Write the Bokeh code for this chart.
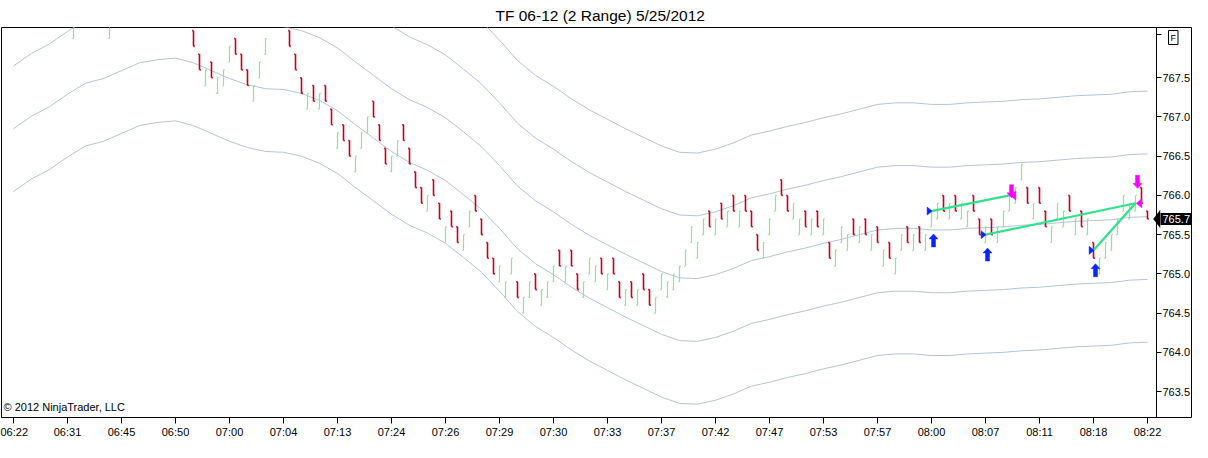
from bokeh.plotting import figure
from bokeh.models import FixedTicker, Label, Range1d, LinearAxis
from bokeh.embed import file_html
from bokeh.resources import INLINE

# ---------------- data ----------------
title_text = "TF 06-12 (2 Range)  5/25/2012"
copyright_text = "\u00a9 2012 NinjaTrader, LLC"

time_labels = ["06:22", "06:31", "06:45", "06:50", "07:00", "07:04", "07:13", "07:24",
               "07:26", "07:29", "07:30", "07:33", "07:37", "07:42", "07:47", "07:53",
               "07:57", "08:00", "08:07", "08:11", "08:18", "08:22"]
bars_per_label = 9

price_ticks = [763.5, 764.0, 764.5, 765.0, 765.5, 766.0, 766.5, 767.0, 767.5, 768.05]
price_tick_labels = ["763.5", "764.0", "764.5", "765.0", "765.5", "766.0", "766.5", "767.0", "767.5", ""]

bar_open = [
    768.4, 768.6, 768.9, 768.7, 768.5, 768.5, 768.7, 768.8, 768.6, 768.4,
    768.0, 768.2, 768.4, 768.5, 768.5, 768.4, 768.0, 768.2, 768.4, 768.6,
    768.7, 768.7, 768.8, 768.9, 768.8, 768.7, 768.6, 768.5, 768.4, 768.2,
    768.1, 767.8, 767.4, 767.7, 767.3, 767.4, 767.7, 768.0, 767.8, 767.6,
    767.2, 767.5, 767.8, 768.2, 768.3, 768.4, 768.1, 767.8, 767.5, 767.1,
    767.4, 767.1, 767.4, 767.1, 766.6, 766.9, 766.7, 766.3, 766.6, 766.8,
    767.2, 766.9, 766.6, 766.3, 766.5, 766.9, 766.6, 766.3, 766.1, 765.8,
    766.2, 765.9, 765.4, 765.8, 765.6, 765.3, 765.6, 766.0, 765.7, 765.4,
    765.2, 764.9, 764.7, 765.0, 764.9, 764.5, 764.7, 765.0, 764.6, 764.7,
    764.9, 765.3, 764.9, 765.3, 765.0, 764.7, 765.0, 764.9, 765.2, 764.8,
    765.2, 764.9, 764.6, 764.9, 764.6, 765.0, 764.8, 764.5, 764.8, 764.7,
    764.8, 764.9, 765.1, 765.4, 765.2, 765.5, 765.8, 765.5, 765.9, 765.6,
    766.0, 765.6, 766.0, 765.8, 765.5, 765.2, 765.5, 765.8, 766.2, 766.0,
    765.7, 765.5, 765.8, 765.5, 765.8, 765.5, 765.4, 765.1, 765.4, 765.3,
    765.7, 765.4, 765.7, 765.3, 765.6, 765.1, 765.4, 765.0, 765.3, 765.6,
    765.3, 765.6, 765.3, 765.6, 765.7, 766.0, 765.7, 766.0, 765.7, 765.6,
    766.0, 765.7, 765.4, 765.7, 765.4, 765.6, 765.8, 765.9, 766.2, 766.1,
    765.7, 766.1, 765.8, 765.4, 765.7, 765.6, 766.0, 765.5, 765.8, 765.5,
    765.4, 765.0, 765.2, 765.3, 765.5, 765.8, 765.7, 765.8, 766.1, 765.8,
]
bar_close = [
    768.6, 768.8, 768.7, 768.5, 768.3, 768.7, 768.9, 768.6, 768.4, 768.2,
    768.2, 768.4, 768.6, 768.7, 768.3, 768.2, 768.2, 768.4, 768.6, 768.8,
    768.5, 768.9, 769.0, 768.7, 768.6, 768.5, 768.4, 768.3, 768.2, 768.4,
    767.9, 767.6, 767.6, 767.5, 767.5, 767.6, 767.9, 767.8, 767.6, 767.4,
    767.4, 767.7, 768.0, 768.4, 768.5, 768.2, 767.9, 767.6, 767.3, 767.3,
    767.2, 767.3, 767.2, 766.9, 766.8, 766.7, 766.5, 766.5, 766.8, 767.0,
    767.0, 766.7, 766.4, 766.5, 766.7, 766.7, 766.4, 766.1, 765.9, 766.0,
    766.0, 765.7, 765.6, 765.6, 765.4, 765.5, 765.8, 765.8, 765.5, 765.2,
    765.0, 765.1, 764.9, 765.2, 764.7, 764.7, 764.9, 764.8, 764.8, 764.9,
    765.1, 765.1, 765.1, 765.1, 764.8, 764.9, 765.2, 765.1, 765.0, 765.0,
    765.0, 764.7, 764.8, 764.7, 764.8, 764.8, 764.6, 764.7, 765.0, 764.9,
    765.0, 765.1, 765.3, 765.6, 765.4, 765.7, 765.6, 765.7, 765.7, 765.8,
    765.8, 765.8, 765.8, 765.6, 765.3, 765.4, 765.7, 766.0, 766.0, 765.8,
    765.9, 765.7, 765.6, 765.7, 765.6, 765.7, 765.2, 765.3, 765.6, 765.5,
    765.5, 765.6, 765.5, 765.5, 765.4, 765.3, 765.2, 765.2, 765.5, 765.4,
    765.5, 765.4, 765.5, 765.8, 765.9, 765.8, 765.9, 765.8, 765.9, 765.8,
    765.8, 765.5, 765.6, 765.5, 765.6, 765.8, 766.0, 766.1, 766.4, 765.9,
    765.9, 765.9, 765.6, 765.6, 765.9, 765.8, 765.8, 765.7, 765.6, 765.7,
    765.2, 765.2, 765.4, 765.5, 765.7, 766.0, 765.9, 766.0, 765.9, 765.7,
]

# middle line of the channel, sampled every 3rd bar
mid_step = 3
mid_line = [
    767.65, 767.81, 767.93, 768.09, 768.23, 768.29, 768.39, 768.49, 768.53, 768.55,
    768.49, 768.39, 768.29, 768.21, 768.16, 768.15, 768.10, 768.01, 767.88, 767.70,
    767.53, 767.36, 767.22, 767.12, 766.99, 766.81, 766.62, 766.38, 766.12, 765.93,
    765.79, 765.63, 765.49, 765.37, 765.25, 765.14, 765.03, 764.95, 764.94, 764.99,
    765.07, 765.17, 765.22, 765.28, 765.33, 765.39, 765.44, 765.50, 765.56, 765.58,
    765.58, 765.56, 765.56, 765.58, 765.59, 765.60, 765.62, 765.63, 765.65, 765.67,
    765.68, 765.69, 765.72, 765.73,
]
band_offsets = [1.6, 0.8, 0.0, -0.8, -1.6]

# trades
entry_bar = [153, 162, 180]
entry_price = [765.8, 765.5, 765.3]
exit_bar = [166, 187, 187]
exit_price = [766.0, 765.9, 765.9]
up_arrow_bar = [153, 162, 180]
up_arrow_price = [765.51, 765.33, 765.13]
down_arrow_bar = [166, 187]
down_arrow_price = [765.97, 766.09]

last_price = 765.7
last_price_text = "765.7"
f_box_text = "F"

# ---------------- layout constants ----------------
W, H = 1192, 442
MB_L, MB_R, MB_T, MB_B = 1, 0, 27, 25
FRAME_W = W - MB_L - MB_R
FRAME_H = H - MB_T - MB_B
PX_X = 1.0 / 6.0                      # bar units per pixel
X0 = -2.0
X1 = X0 + FRAME_W * PX_X
AXIS_X = X0 + 1155 * PX_X             # price axis sits at canvas x = 1156
Y0, Y1 = 763.17, 768.14
PX_Y = (Y1 - Y0) / FRAME_H

FONT = "Liberation Sans"
RED = "#c4001c"
GREEN = "#8fe68f"
BAND = "#b3c3da"
TRADE = "#30e28a"
BLUE = "#0a24ff"
MAGENTA = "#ff00ff"

p = figure(width=W, height=H, output_backend="svg", toolbar_location=None, tools="",
           x_range=Range1d(X0, X1), y_range=Range1d(Y0, Y1),
           y_axis_location=None,
           min_border_left=MB_L, min_border_right=MB_R,
           min_border_top=MB_T, min_border_bottom=MB_B,
           background_fill_color="white", border_fill_color="white",
           outline_line_color="black", outline_line_width=1)
p.xgrid.visible = False
p.ygrid.visible = False

p.title.text = title_text
p.title.align = "left"
p.title.offset = 494
p.title.text_font = FONT
p.title.text_font_size = "15.5px"
p.title.text_font_style = "normal"
p.title.text_color = "black"
p.title.standoff = 8
p.title.vertical_align = "bottom"

# time axis
xa = p.xaxis[0]
xa.ticker = FixedTicker(ticks=[k * bars_per_label for k in range(len(time_labels))])
xa.major_label_overrides = {k * bars_per_label: t for k, t in enumerate(time_labels)}
xa.bounds = (X0, AXIS_X)
xa.major_tick_out = 6
xa.major_tick_in = 0
xa.minor_tick_out = 0
xa.minor_tick_in = 0
xa.axis_line_color = "black"
xa.major_tick_line_color = "black"
xa.major_label_text_font = FONT
xa.major_label_text_font_size = "11px"
xa.major_label_text_color = "black"
xa.major_label_standoff = 2

# price axis, pinned inside the frame so the price flag area can be drawn beside it
ya = LinearAxis(fixed_location=AXIS_X, ticker=FixedTicker(ticks=price_ticks))
ya.major_label_overrides = {t: s for t, s in zip(price_ticks, price_tick_labels)}
ya.major_tick_out = 5
ya.major_tick_in = 0
ya.minor_tick_out = 0
ya.minor_tick_in = 0
ya.axis_line_color = "black"
ya.major_tick_line_color = "black"
ya.major_label_text_font = FONT
ya.major_label_text_font_size = "11px"
ya.major_label_text_color = "black"
ya.major_label_standoff = 1
p.add_layout(ya, "right")

# channel bands
mid_x = [k * mid_step for k in range(len(mid_line))]
for off in band_offsets:
    p.line(mid_x, [m + off for m in mid_line], line_color=BAND, line_width=1.0)

# OHLC range bars
idx = list(range(len(bar_open)))
hi = [max(o, c) for o, c in zip(bar_open, bar_close)]
lo = [min(o, c) for o, c in zip(bar_open, bar_close)]
up = [c >= o for o, c in zip(bar_open, bar_close)]
tick = 1.3 * PX_X
for flag, col, lw in ((True, GREEN, 1.2), (False, RED, 1.6)):
    ii = [i for i in idx if up[i] == flag]
    p.segment(x0=ii, y0=[lo[i] for i in ii], x1=ii, y1=[hi[i] for i in ii],
              line_color=col, line_width=lw)
    p.segment(x0=[i - tick for i in ii], y0=[bar_open[i] for i in ii],
              x1=ii, y1=[bar_open[i] for i in ii], line_color=col, line_width=lw)
    p.segment(x0=ii, y0=[bar_close[i] for i in ii],
              x1=[i + tick for i in ii], y1=[bar_close[i] for i in ii], line_color=col, line_width=lw)

# trade connection lines
p.segment(x0=entry_bar, y0=entry_price, x1=exit_bar, y1=exit_price,
          line_color=TRADE, line_width=2.2)


def shape(bars, prices, pts, dx0=0.0):
    xs, ys = [], []
    for b, pr in zip(bars, prices):
        xs.append([b + (dx0 + dx) * PX_X for dx, dy in pts])
        ys.append([pr - dy * PX_Y for dx, dy in pts])
    return xs, ys


up_pts = [(0, 0), (4.5, 5), (2, 5), (2, 13), (-2, 13), (-2, 5), (-4.5, 5)]
down_pts = [(dx, -dy) for dx, dy in up_pts]
right_tri = [(0.6, 0), (-4.4, -4), (-4.4, 4)]
left_tri = [(0.8, 0), (6.3, -4.5), (6.3, 4.5)]

xs, ys = shape(up_arrow_bar, up_arrow_price, up_pts, 2.0)
p.patches(xs, ys, fill_color=BLUE, line_color=BLUE, line_width=0.5)
xs, ys = shape(down_arrow_bar, down_arrow_price, down_pts, 2.0)
p.patches(xs, ys, fill_color=MAGENTA, line_color=MAGENTA, line_width=0.5)
xs, ys = shape(entry_bar, entry_price, right_tri)
p.patches(xs, ys, fill_color=BLUE, line_color=BLUE, line_width=0.5)
xs, ys = shape(exit_bar[:2], exit_price[:2], left_tri)
p.patches(xs, ys, fill_color=MAGENTA, line_color=MAGENTA, line_width=0.5)

# last-price flag: pointer + black box with white text
ptr_x, ptr_y = shape([AXIS_X], [last_price], [(-3, 0), (3.5, -8.5), (3.5, 8.5)])
p.patches(ptr_x, ptr_y, fill_color="black", line_color="black", line_width=0.5)
p.add_layout(Label(x=AXIS_X, y=last_price, x_offset=4, text=last_price_text,
                   text_font=FONT, text_font_size="11px", text_color="white",
                   background_fill_color="black", padding=2,
                   text_baseline="middle", text_align="left"))
# "F" box
p.add_layout(Label(x=AXIS_X, y=Y1, x_offset=12, y_offset=-3, text=f_box_text,
                   text_font=FONT, text_font_size="9px", text_color="black",
                   border_line_color="black", border_line_width=1, padding=2,
                   text_baseline="top", text_align="left"))

# copyright
p.add_layout(Label(x=X0, y=Y0, x_offset=2, y_offset=5, text=copyright_text,
                   text_font=FONT, text_font_size="11px", text_color="black",
                   text_baseline="bottom", text_align="left"))

open("out.html", "w").write(file_html(p, INLINE))
